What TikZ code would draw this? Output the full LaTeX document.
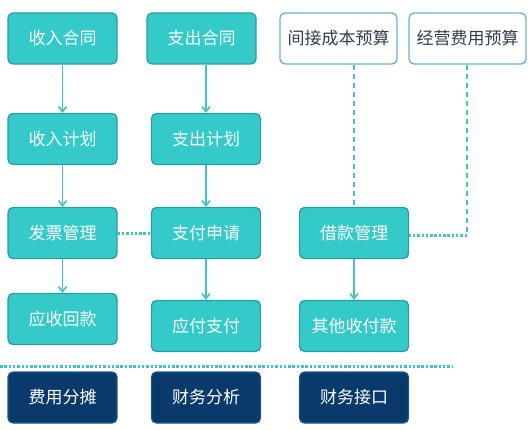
\documentclass[tikz,border=0pt]{standalone}
\usepackage{fontspec}
\setmainfont{Noto Sans CJK SC}
\usetikzlibrary{arrows.meta}
\definecolor{tealfill}{HTML}{35CACA}
\definecolor{tealline}{HTML}{2A9E9E}
\definecolor{navyfill}{HTML}{0A3A6C}
\definecolor{navyline}{HTML}{1E5A7A}
\definecolor{outline}{HTML}{6AB0D8}
\definecolor{graytext}{HTML}{2F3F4F}
\definecolor{connector}{HTML}{3EC4C4}
\begin{document}
\begin{tikzpicture}[x=1pt,y=-1pt,
  base/.style={rounded corners=5pt, minimum width=109pt, minimum height=51pt, inner sep=0pt, font=\fontsize{17}{19}\selectfont, line width=1.3pt},
  tealbox/.style={base, fill=tealfill, draw=tealline, text=white},
  navybox/.style={base, fill=navyfill, draw=navyline, text=white},
  openbox/.style={base, fill=white, draw=outline, text=graytext, minimum width=117pt},
  arr/.style={draw=connector, line width=1.6pt, -{Straight Barb[length=5pt,width=8pt]}},
  dashline/.style={draw=connector, line width=1.8pt, dash pattern=on 5pt off 4pt},
  dotline/.style={draw=connector, line width=3pt, dash pattern=on 2.5pt off 1.8pt}
]
\useasboundingbox (0,0) rectangle (532,430);
\node[tealbox] (a1) at (62.5,38.5) {收入合同};
\node[tealbox] (b1) at (201.5,38.5) {支出合同};
\node[openbox] (c1) at (338.5,38.5) {间接成本预算};
\node[openbox] (d1) at (467.5,38.5) {经营费用预算};
\node[tealbox] (a2) at (62.5,139) {收入计划};
\node[tealbox] (b2) at (206,139) {支出计划};
\node[tealbox] (a3) at (62.5,233) {发票管理};
\node[tealbox] (b3) at (206,233) {支付申请};
\node[tealbox] (c3) at (354,233) {借款管理};
\node[tealbox] (a4) at (62.5,319) {应收回款};
\node[tealbox] (b4) at (206,326) {应付支付};
\node[tealbox] (c4) at (354,326) {其他收付款};
\node[navybox] (a5) at (62.5,397.5) {费用分摊};
\node[navybox] (b5) at (206,397.5) {财务分析};
\node[navybox] (c5) at (354,397.5) {财务接口};
\coordinate (sepL) at (0,366);
\coordinate (sepR) at (452,366);
\coordinate (bend) at (467,235);
\draw[arr] (a1.south) -- (a2.north);
\draw[arr] (b2.north |- b1.south) -- (b2.north);
\draw[arr] (a2.south) -- (a3.north);
\draw[arr] (b2.south) -- (b3.north);
\draw[arr] (a3.south) -- (a4.north);
\draw[arr] (b3.south) -- (b4.north);
\draw[arr] (c3.south) -- (c4.north);
\draw[dotline] (a3.east) -- (b3.west);
\draw[dashline] (c3.north |- c1.south) -- (c3.north);
\draw[dashline] (d1.south -| bend) -- (bend);
\draw[dotline] (bend) -- (c3.east |- bend);
\draw[dotline] (sepL) -- (sepR);
\end{tikzpicture}
\end{document}
